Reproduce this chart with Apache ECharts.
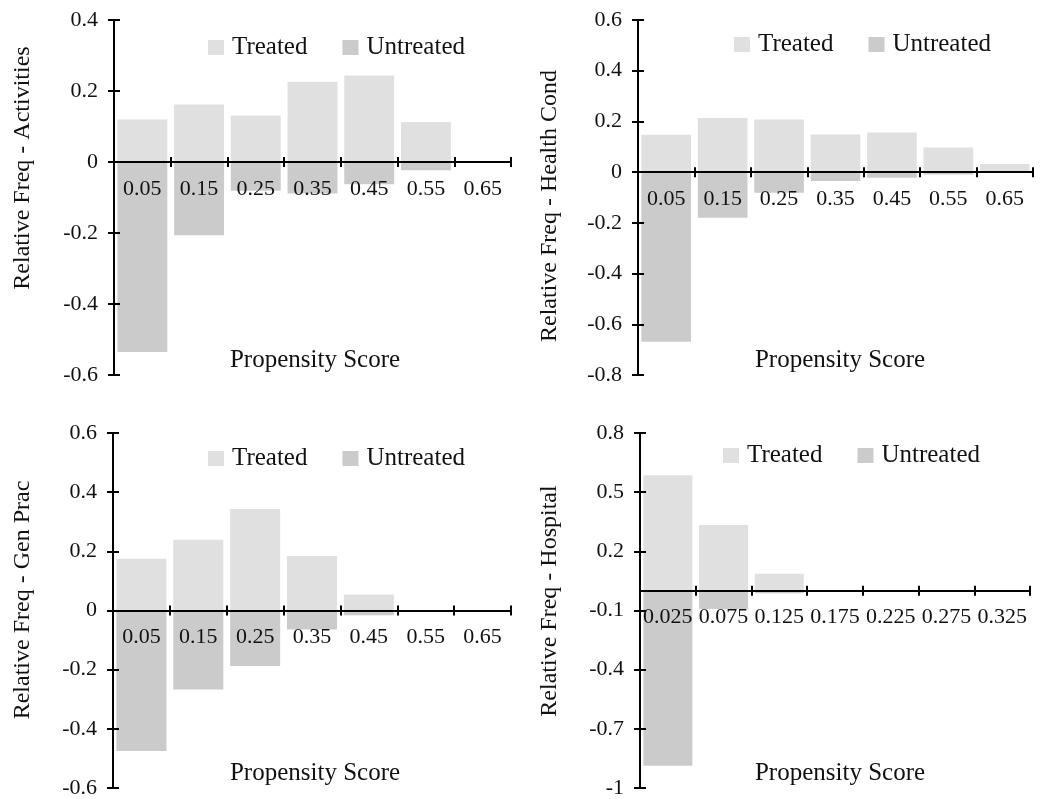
<!DOCTYPE html>
<html>
<head>
<meta charset="utf-8">
<script src="https://cdn.jsdelivr.net/npm/echarts@6/dist/echarts.min.js"></script>
<style>
html,body{margin:0;padding:0;background:#fff;}
#chart{width:1047px;height:799px;}
</style>
</head>
<body>
<div id="chart"></div>
<script>
// ---- data ----
var scoreCategories = ['0.05', '0.15', '0.25', '0.35', '0.45', '0.55', '0.65'];
var hospitalCategories = ['0.025', '0.075', '0.125', '0.175', '0.225', '0.275', '0.325'];

var activitiesTreated   = [0.120, 0.162, 0.131, 0.226, 0.244, 0.113, 0];
var activitiesUntreated = [-0.535, -0.206, -0.081, -0.089, -0.063, -0.023, 0];
var healthTreated       = [0.147, 0.214, 0.208, 0.148, 0.156, 0.097, 0.032];
var healthUntreated     = [-0.669, -0.180, -0.081, -0.035, -0.022, -0.009, 0];
var genPracTreated      = [0.175, 0.239, 0.343, 0.184, 0.054, 0, 0];
var genPracUntreated    = [-0.475, -0.267, -0.188, -0.064, -0.016, 0, 0];
var hospitalTreated     = [0.586, 0.334, 0.086, 0, 0, 0, 0];
var hospitalUntreated   = [-0.887, -0.093, -0.012, 0, 0, 0, 0];

var activitiesTicks = [-0.6, -0.4, -0.2, 0, 0.2, 0.4];
var healthTicks     = [-0.8, -0.6, -0.4, -0.2, 0, 0.2, 0.4, 0.6];
var genPracTicks    = [-0.6, -0.4, -0.2, 0, 0.2, 0.4, 0.6];
var hospitalTicks   = [-1, -0.7, -0.4, -0.1, 0.2, 0.5, 0.8];

var seriesNames = ['Treated', 'Untreated'];
var xTitle = 'Propensity Score';

// ---- layout / style ----
var FONT = '"Liberation Serif", "Times New Roman", serif';
var TEXT = '#111';
var TREATED_COLOR = '#e0e0e0';
var UNTREATED_COLOR = '#cbcbcb';
var X_LABEL_GAP = 16; // distance of x labels below the zero line

var panels = [
  {cats: scoreCategories, t: activitiesTreated, u: activitiesUntreated, ticks: activitiesTicks,
   yName: 'Relative Freq - Activities',
   grid: {left: 114, top: 20, width: 397, height: 355},
   legend: {left: 208, top: 35}, yTitle: [23, 168], xTitlePos: [315, 360]},
  {cats: scoreCategories, t: healthTreated, u: healthUntreated, ticks: healthTicks,
   yName: 'Relative Freq - Health Cond',
   grid: {left: 638, top: 20, width: 395, height: 355},
   legend: {left: 734, top: 32}, yTitle: [550, 206], xTitlePos: [840, 360]},
  {cats: scoreCategories, t: genPracTreated, u: genPracUntreated, ticks: genPracTicks,
   yName: 'Relative Freq - Gen Prac',
   grid: {left: 113, top: 433, width: 398, height: 356},
   legend: {left: 208, top: 446}, yTitle: [23, 600], xTitlePos: [315, 773]},
  {cats: hospitalCategories, t: hospitalTreated, u: hospitalUntreated, ticks: hospitalTicks,
   yName: 'Relative Freq - Hospital',
   grid: {left: 640, top: 433, width: 390, height: 356},
   legend: {left: 723, top: 443}, yTitle: [550, 601], xTitlePos: [840, 773]}
];

var option = {
  backgroundColor: '#fff',
  animation: false,
  grid: [], xAxis: [], yAxis: [], series: [], legend: [], graphic: []
};

panels.forEach(function (p, i) {
  option.grid.push(Object.assign({containLabel: false}, p.grid));
  var yMin = p.ticks[0], yMax = p.ticks[p.ticks.length - 1];
  // labels of an onZero category axis are anchored to the grid's bottom edge;
  // shift them back up so they sit just below the zero line
  var zeroToBottom = p.grid.height * (0 - yMin) / (yMax - yMin);
  var mainY = option.yAxis.length;
  option.yAxis.push({
    type: 'value', gridIndex: i, position: 'left', min: yMin, max: yMax, z: 5,
    axisLine: {show: true, lineStyle: {color: '#000', width: 2}},
    axisTick: {show: true, length: 6, customValues: p.ticks, lineStyle: {color: '#000', width: 2}},
    axisLabel: {show: true, customValues: p.ticks, margin: 16, color: TEXT, fontFamily: FONT, fontSize: 22,
      formatter: function (v) { return String(Math.round(v * 10) / 10); }},
    splitLine: {show: false}
  });
  var secY = option.yAxis.length;
  option.yAxis.push({
    type: 'value', gridIndex: i, position: 'left', min: yMin, max: yMax, z: 5,
    axisLine: {show: false},
    axisTick: {show: true, inside: true, length: 6, customValues: p.ticks, lineStyle: {color: '#000', width: 2}},
    axisLabel: {show: false},
    splitLine: {show: false}
  });
  var mainX = option.xAxis.length;
  option.xAxis.push({
    type: 'category', gridIndex: i, data: p.cats, position: 'bottom', z: 5,
    axisLine: {show: true, onZero: true, onZeroAxisIndex: mainY, lineStyle: {color: '#000', width: 2}},
    axisTick: {show: true, length: 5, lineStyle: {color: '#000', width: 2}},
    axisLabel: {show: true, interval: 0, margin: X_LABEL_GAP - zeroToBottom,
      color: TEXT, fontFamily: FONT, fontSize: 22}
  });
  option.xAxis.push({
    type: 'category', gridIndex: i, data: p.cats, position: 'bottom', z: 5,
    axisLine: {show: false, onZero: true, onZeroAxisIndex: secY},
    axisTick: {show: true, inside: true, length: 5, lineStyle: {color: '#000', width: 2}},
    axisLabel: {show: false}
  });
  option.series.push({
    name: seriesNames[0], type: 'bar', xAxisIndex: mainX, yAxisIndex: mainY,
    data: p.t, barGap: '-100%', barCategoryGap: '12%',
    itemStyle: {color: TREATED_COLOR}
  });
  option.series.push({
    name: seriesNames[1], type: 'bar', xAxisIndex: mainX, yAxisIndex: mainY,
    data: p.u, barGap: '-100%', barCategoryGap: '12%',
    itemStyle: {color: UNTREATED_COLOR}
  });
  option.legend.push({
    data: seriesNames, left: p.legend.left, top: p.legend.top, padding: 0,
    orient: 'horizontal', icon: 'rect', itemWidth: 16, itemHeight: 15, itemGap: 35,
    selectedMode: false,
    textStyle: {color: TEXT, fontFamily: FONT, fontSize: 25, padding: [0, 0, 0, 3]}
  });
  option.graphic.push({
    type: 'text', x: p.yTitle[0], y: p.yTitle[1], rotation: Math.PI / 2,
    style: {text: p.yName, fill: TEXT, font: '24px ' + FONT, align: 'center', verticalAlign: 'middle'}
  });
  option.graphic.push({
    type: 'text', x: p.xTitlePos[0], y: p.xTitlePos[1],
    style: {text: xTitle, fill: TEXT, font: '25px ' + FONT, align: 'center', verticalAlign: 'middle'}
  });
});

var chart = echarts.init(document.getElementById('chart'), null, {renderer: 'canvas'});
chart.setOption(option);
</script>
</body>
</html>
